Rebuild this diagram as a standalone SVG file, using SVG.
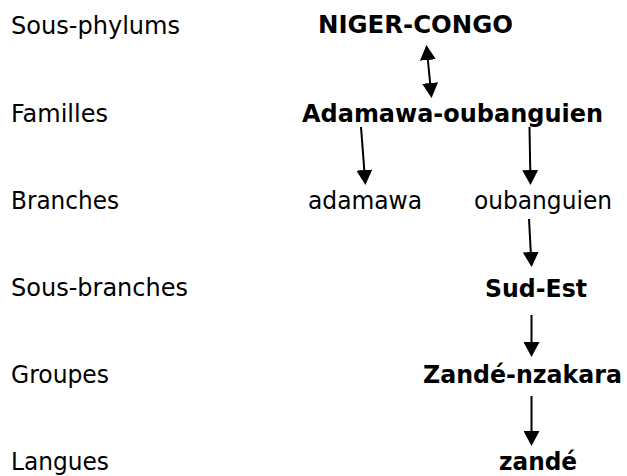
<svg xmlns="http://www.w3.org/2000/svg" width="627" height="476" viewBox="0 0 627 476">
<style>
text{font-family:"DejaVu Sans",Verdana,sans-serif;font-size:24px;fill:#000}
.b{font-weight:bold}
.c line{stroke:#000;stroke-width:2}
</style>
<defs>
<marker id="ah" markerUnits="userSpaceOnUse" viewBox="0 0 15 16" markerWidth="15" markerHeight="16" refX="4" refY="8" orient="auto-start-reverse">
<path d="M0,0 L15,8 L0,16 Z" fill="#000"/>
</marker>
</defs>
<rect width="627" height="476" fill="#fff"/>
<g id="levels">
<text x="11" y="34" textLength="169" lengthAdjust="spacingAndGlyphs">Sous-phylums</text>
<text x="11" y="121.5" textLength="97" lengthAdjust="spacingAndGlyphs">Familles</text>
<text x="11" y="209" textLength="108" lengthAdjust="spacingAndGlyphs">Branches</text>
<text x="11" y="296" textLength="177" lengthAdjust="spacingAndGlyphs">Sous-branches</text>
<text x="11" y="383" textLength="98" lengthAdjust="spacingAndGlyphs">Groupes</text>
<text x="11" y="470" textLength="98" lengthAdjust="spacingAndGlyphs">Langues</text>
</g>
<g id="niger-congo"><text class="b" x="318" y="33" textLength="195" lengthAdjust="spacingAndGlyphs">NIGER-CONGO</text></g>
<g id="adamawa-oubanguien"><text class="b" x="302" y="122" textLength="301" lengthAdjust="spacingAndGlyphs">Adamawa-oubanguien</text></g>
<g id="adamawa"><text x="308" y="209" textLength="114" lengthAdjust="spacingAndGlyphs">adamawa</text></g>
<g id="oubanguien"><text x="474" y="209" textLength="138" lengthAdjust="spacingAndGlyphs">oubanguien</text></g>
<g id="sud-est"><text class="b" x="485" y="297" textLength="102" lengthAdjust="spacingAndGlyphs">Sud-Est</text></g>
<g id="zande-nzakara"><text class="b" x="423" y="383" textLength="199" lengthAdjust="spacingAndGlyphs">Zandé-nzakara</text></g>
<g id="zande"><text class="b" x="499" y="470" textLength="78" lengthAdjust="spacingAndGlyphs">zandé</text></g>
<g id="connectors" class="c">
<line x1="427.5" y1="56" x2="430.5" y2="87" marker-start="url(#ah)" marker-end="url(#ah)"/>
<line x1="361" y1="127" x2="364.6" y2="174" marker-end="url(#ah)"/>
<line x1="529.5" y1="127" x2="530.3" y2="174" marker-end="url(#ah)"/>
<line x1="529" y1="219" x2="531" y2="256" marker-end="url(#ah)"/>
<line x1="531.5" y1="315" x2="531.5" y2="346" marker-end="url(#ah)"/>
<line x1="531.5" y1="396" x2="531.5" y2="435" marker-end="url(#ah)"/>
</g>
</svg>
